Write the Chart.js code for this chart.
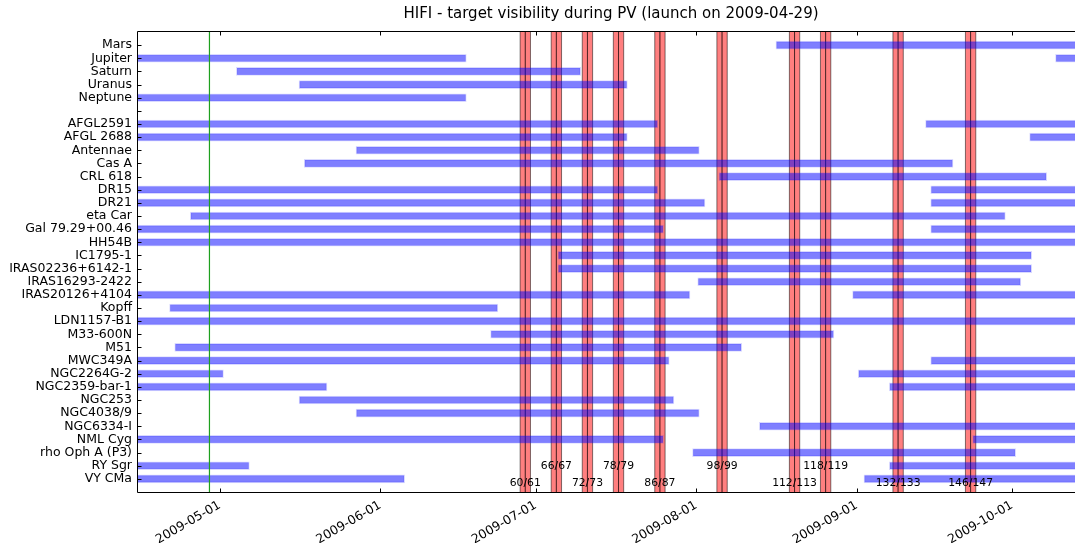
<!DOCTYPE html>
<html>
<head>
<meta charset="utf-8">
<title>HIFI - target visibility during PV</title>
<script src="https://cdn.jsdelivr.net/npm/chart.js@4/dist/chart.umd.min.js"></script>
<style>
  html, body { margin: 0; padding: 0; background: #fff; overflow: hidden; }
  #wrap { width: 1075px; height: 543px; overflow: hidden; }
</style>
</head>
<body>
<div id="wrap"><canvas id="visibility-chart" width="1100" height="543"></canvas></div>
<script>
// Targets, top to bottom ('' is the gap between planets and the other sources)
const targets = [
  'Mars', 'Jupiter', 'Saturn', 'Uranus', 'Neptune', '',
  'AFGL2591', 'AFGL 2688', 'Antennae', 'Cas A', 'CRL 618', 'DR15', 'DR21',
  'eta Car', 'Gal 79.29+00.46', 'HH54B', 'IC1795-1', 'IRAS02236+6142-1',
  'IRAS16293-2422', 'IRAS20126+4104', 'Kopff', 'LDN1157-B1', 'M33-600N', 'M51',
  'MWC349A', 'NGC2264G-2', 'NGC2359-bar-1', 'NGC253', 'NGC4038/9', 'NGC6334-I',
  'NML Cyg', 'rho Oph A (P3)', 'RY Sgr', 'VY CMa'
];

// Visibility windows in days since 2009-01-01 (null = no window)
const firstStart = [
  227.4, 100, 123.2, 135.3, 100, null,
  100, 100, 146.3, 136.3, 216.4, 100, 100,
  114.3, 100, 100, 185.3, 185.3,
  212.3, 100, 110.3, 100, 172.3, 111.3,
  100, 100, 100, 135.3, 146.3, 224.2,
  100, 211.3, 100, 100
];
const firstEnd = [
  290, 167.6, 189.7, 198.7, 167.6, null,
  204.6, 198.7, 212.6, 261.6, 279.7, 204.6, 213.7,
  271.7, 205.7, 290, 276.8, 276.8,
  274.7, 210.8, 173.7, 290, 238.6, 220.8,
  206.8, 120.7, 140.7, 207.7, 212.6, 290,
  205.7, 273.7, 125.7, 155.7
];
const secondStart = [
  null, 281.4, null, null, null, null,
  256.3, 276.4, null, null, null, 257.3, 257.3,
  null, 257.3, null, null, null,
  null, 242.2, null, null, null, null,
  257.3, 243.3, 249.3, null, null, null,
  265.4, null, 249.3, 244.4
];
const secondEnd = [
  null, 290, null, null, null, null,
  290, 290, null, null, null, 290, 290,
  null, 290, null, null, null,
  null, 290, null, null, null, null,
  290, 290, 290, null, null, null,
  290, null, 290, 290
];

// X axis ticks
const tickDates = ['2009-05-01', '2009-06-01', '2009-07-01', '2009-08-01', '2009-09-01', '2009-10-01'];
const launchDate = '2009-04-29';

// Operational day pairs marked in red
const odLabels = ['60/61', '66/67', '72/73', '78/79', '86/87', '98/99', '112/113', '118/119', '132/133', '146/147'];
const odStartDates = ['2009-06-28', '2009-07-04', '2009-07-10', '2009-07-16', '2009-07-24',
                      '2009-08-05', '2009-08-19', '2009-08-25', '2009-09-08', '2009-09-22'];
const odLabelLow = [true, false, true, false, true, false, true, false, true, true];

const xMin = 104.2;
const xMax = 286.9;

// Days since 2009-01-01 for a YYYY-MM-DD string
function dayOfYear(str) {
  const [y, m, d] = str.split('-').map(Number);
  return (Date.UTC(y, m - 1, d) - Date.UTC(2009, 0, 1)) / 86400000;
}

function buildWindows(starts, ends) {
  const out = [];
  targets.forEach((name, i) => {
    if (starts[i] !== null) out.push({ x: [starts[i], ends[i]], y: name });
  });
  return out;
}

const FONT = '"DejaVu Sans", sans-serif';

// Red OD bands, launch marker, spines and inward ticks
const decorPlugin = {
  id: 'decor',
  beforeDatasetsDraw(chart) {
    const { ctx, chartArea: a, scales: { x } } = chart;
    ctx.save();
    ctx.beginPath();
    ctx.rect(a.left, a.top, a.right - a.left, a.bottom - a.top);
    ctx.clip();
    odStartDates.forEach(date => {
      const start = dayOfYear(date);
      for (let k = 0; k < 2; k++) {
        const x0 = x.getPixelForValue(start + k);
        const x1 = x.getPixelForValue(start + k + 1);
        ctx.fillStyle = 'rgba(255, 0, 0, 0.5)';
        ctx.fillRect(x0, a.top, x1 - x0, a.bottom - a.top);
        ctx.strokeStyle = 'rgba(0, 0, 0, 0.5)';
        ctx.lineWidth = 1;
        ctx.beginPath();
        ctx.moveTo(x0, a.top); ctx.lineTo(x0, a.bottom);
        ctx.moveTo(x1, a.top); ctx.lineTo(x1, a.bottom);
        ctx.stroke();
      }
    });
    ctx.restore();
  },
  afterDatasetsDraw(chart) {
    const { ctx, chartArea: a, scales: { x, y } } = chart;
    ctx.save();

    // Launch line
    const lx = x.getPixelForValue(dayOfYear(launchDate));
    ctx.strokeStyle = 'rgb(30, 160, 30)';
    ctx.lineWidth = 1.2;
    ctx.beginPath();
    ctx.moveTo(lx, a.top); ctx.lineTo(lx, a.bottom);
    ctx.stroke();

    // OD labels
    const rowStep = y.getPixelForValue('VY CMa') - y.getPixelForValue('RY Sgr');
    const lowY = y.getPixelForValue('VY CMa') + rowStep * 0.3;
    const highY = y.getPixelForValue('RY Sgr');
    ctx.fillStyle = '#000';
    ctx.font = '10.8px ' + FONT;
    ctx.textAlign = 'center';
    ctx.textBaseline = 'middle';
    odLabels.forEach((label, i) => {
      const mid = x.getPixelForValue(dayOfYear(odStartDates[i]) + 1);
      ctx.fillText(label, mid, odLabelLow[i] ? lowY : highY);
    });
    ctx.restore();
  },
  afterDraw(chart) {
    const { ctx, chartArea: a, scales: { x, y } } = chart;
    const left = Math.round(a.left) - 0.5;
    const right = Math.round(a.right) + 0.5;
    const top = Math.round(a.top) - 0.5;
    const bottom = Math.round(a.bottom) + 0.5;
    ctx.save();
    ctx.strokeStyle = '#000';
    ctx.lineWidth = 1;

    // Spines
    ctx.beginPath();
    ctx.moveTo(left, top); ctx.lineTo(right, top);
    ctx.lineTo(right, bottom); ctx.lineTo(left, bottom);
    ctx.closePath();
    ctx.stroke();

    // Inward ticks
    ctx.beginPath();
    tickDates.forEach(date => {
      const px = Math.round(x.getPixelForValue(dayOfYear(date))) + 0.5;
      ctx.moveTo(px, bottom); ctx.lineTo(px, bottom - 4);
      ctx.moveTo(px, top); ctx.lineTo(px, top + 4);
    });
    targets.forEach((name, i) => {
      const py = Math.round(y.getPixelForValue(i + 1)) + 0.5;
      ctx.moveTo(left, py); ctx.lineTo(left + 4, py);
      ctx.moveTo(right, py); ctx.lineTo(right - 4, py);
    });
    ctx.stroke();
    ctx.restore();
  }
};

Chart.defaults.font.family = FONT;
Chart.defaults.font.size = 12.5;
Chart.defaults.color = '#000';

const ctx = document.getElementById('visibility-chart').getContext('2d');

new Chart(ctx, {
  type: 'bar',
  data: {
    labels: [''].concat(targets, ['']),
    datasets: [{
      label: 'window 1',
      data: buildWindows(firstStart, firstEnd),
      backgroundColor: 'rgba(0, 0, 255, 0.5)',
      borderColor: 'rgba(0, 0, 255, 0.15)',
      borderWidth: 1,
      borderSkipped: false,
      barThickness: 8,
      grouped: false,
      clip: 0
    }, {
      label: 'window 2',
      data: buildWindows(secondStart, secondEnd),
      backgroundColor: 'rgba(0, 0, 255, 0.5)',
      borderColor: 'rgba(0, 0, 255, 0.15)',
      borderWidth: 1,
      borderSkipped: false,
      barThickness: 8,
      grouped: false,
      clip: 0
    }]
  },
  options: {
    indexAxis: 'y',
    responsive: false,
    animation: false,
    layout: {
      padding: { left: 0, right: 16, top: 0, bottom: 0 }
    },
    plugins: {
      legend: { display: false },
      tooltip: { enabled: false },
      title: {
        display: true,
        fullSize: false,
        text: 'HIFI - target visibility during PV (launch on 2009-04-29)',
        color: '#000',
        font: { family: FONT, size: 15, weight: 'normal' },
        padding: { top: 5, bottom: 9 }
      }
    },
    scales: {
      x: {
        type: 'linear',
        position: 'bottom',
        min: xMin,
        max: xMax,
        grid: { display: false, drawTicks: false },
        border: { display: false },
        afterBuildTicks: scale => {
          scale.ticks = tickDates.map(d => ({ value: dayOfYear(d) }));
        },
        afterFit: scale => { scale.height = 51; },
        ticks: {
          autoSkip: false,
          minRotation: 30,
          maxRotation: 30,
          padding: 6,
          callback: (value, index) => tickDates[index]
        }
      },
      y: {
        type: 'category',
        offset: false,
        grid: { display: false, drawTicks: false },
        border: { display: false },
        afterFit: scale => { scale.width = 138; },
        ticks: {
          autoSkip: false,
          padding: 6
        }
      }
    }
  },
  plugins: [decorPlugin]
});
</script>
</body>
</html>
